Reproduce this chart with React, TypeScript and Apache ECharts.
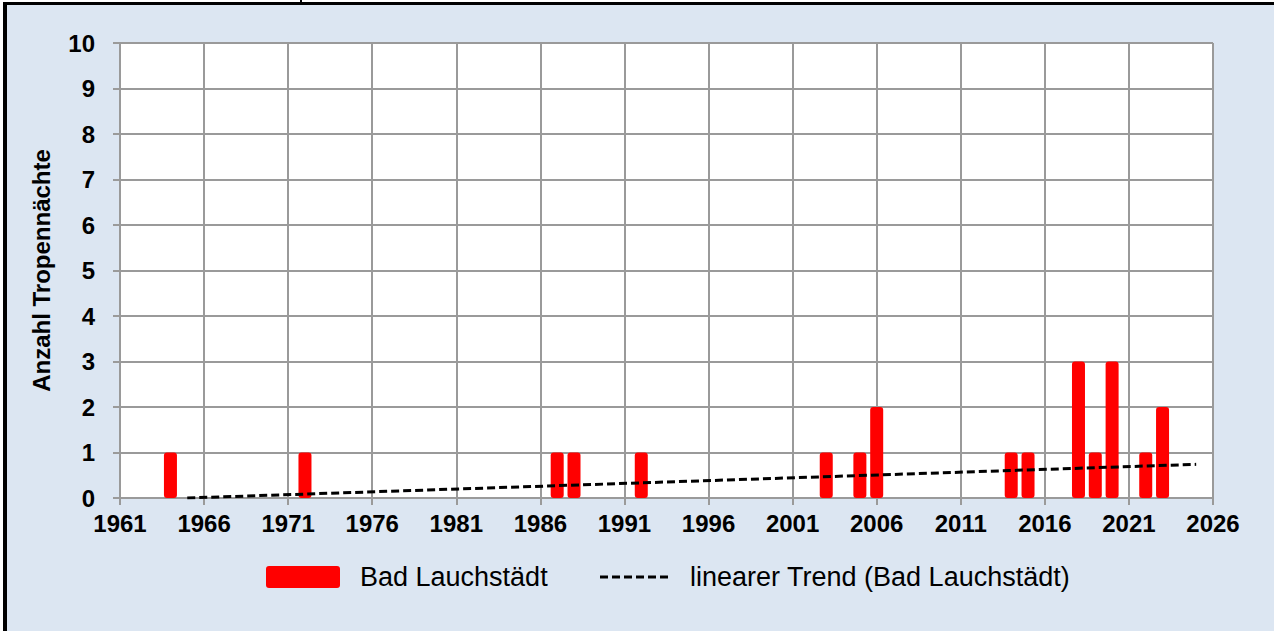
import React, { useEffect, useRef } from "react";
import * as echarts from "echarts";

const years = [1964, 1972, 1987, 1988, 1992, 2003, 2005, 2006, 2014, 2015, 2018, 2019, 2020, 2022, 2023];
const nights = [1, 1, 1, 1, 1, 1, 1, 2, 1, 1, 3, 1, 3, 1, 2];
const trendYears = [1965, 2025];
const trendValues = [0, 0.74];
const seriesNames = ["Bad Lauchstädt", "linearer Trend (Bad Lauchstädt)"];
const yAxisTitle = "Anzahl Tropennächte";

export default function App() {
  const ref = useRef<HTMLDivElement>(null);
  useEffect(() => {
    document.body.style.margin = "0";
    const chart = echarts.init(ref.current!, null, { renderer: "svg" });
    const font = "Liberation Sans, Arial, sans-serif";
    const legendFont = { fontFamily: font, fontSize: 27, fill: "#000" };
    chart.setOption({
      animation: false,
      backgroundColor: "#ffffff",
      graphic: [
        { type: "rect", shape: { x: 3, y: 2, width: 1271, height: 629 }, style: { fill: "#000000" }, z: -10 },
        { type: "rect", shape: { x: 7, y: 5, width: 1267, height: 626 }, style: { fill: "#dce6f2" }, z: -9 },
        { type: "rect", shape: { x: 300, y: 0, width: 2, height: 3 }, style: { fill: "#000000" }, z: -8 },
        { type: "rect", shape: { x: 266, y: 566, width: 74, height: 22, r: 3 }, style: { fill: "#ff0000" } },
        {
          type: "text", x: 360, y: 577,
          style: { ...legendFont, text: seriesNames[0], verticalAlign: "middle", align: "left" },
        },
        {
          type: "line", shape: { x1: 600, y1: 577, x2: 668, y2: 577 },
          style: { stroke: "#000", lineWidth: 3, lineDash: [8, 4] },
        },
        {
          type: "text", x: 690, y: 577,
          style: { ...legendFont, text: seriesNames[1], verticalAlign: "middle", align: "left" },
        },
      ],
      grid: { left: 120, right: 61, top: 43, bottom: 133, backgroundColor: "#ffffff", show: true, borderWidth: 0 },
      xAxis: {
        type: "value",
        min: 1961,
        max: 2026,
        interval: 5,
        axisLine: { show: true, onZero: false, lineStyle: { color: "#9a9a9a", width: 2 } },
        axisTick: { show: true, length: 7, lineStyle: { color: "#9a9a9a", width: 2 } },
        splitLine: { show: true, lineStyle: { color: "#9a9a9a", width: 2 } },
        axisLabel: { fontFamily: font, fontWeight: "bold", fontSize: 24, color: "#000", margin: 13, formatter: (v: number) => String(v) },
      },
      yAxis: {
        type: "value",
        min: 0,
        max: 10,
        interval: 1,
        name: yAxisTitle,
        nameLocation: "middle",
        nameGap: 67,
        nameTextStyle: { fontFamily: font, fontWeight: "bold", fontSize: 24, color: "#000" },
        axisLine: { show: true, lineStyle: { color: "#9a9a9a", width: 2 } },
        axisTick: { show: true, length: 7, lineStyle: { color: "#9a9a9a", width: 2 } },
        splitLine: { show: true, lineStyle: { color: "#9a9a9a", width: 2 } },
        axisLabel: { fontFamily: font, fontWeight: "bold", fontSize: 24, color: "#000", margin: 25 },
      },
      series: [
        {
          name: seriesNames[0],
          type: "bar",
          barWidth: 13,
          itemStyle: { color: "#ff0000", borderRadius: 3 },
          data: years.map((y, i) => [y, nights[i]]),
          z: 3,
        },
        {
          name: seriesNames[1],
          type: "line",
          symbol: "none",
          lineStyle: { color: "#000", width: 3, type: [8, 4] },
          itemStyle: { color: "#000" },
          data: trendYears.map((y, i) => [y, trendValues[i]]),
          z: 4,
        },
      ],
    });
    return () => chart.dispose();
  }, []);
  return <div ref={ref} style={{ position: "absolute", left: 0, top: 0, width: 1274, height: 631 }} />;
}
